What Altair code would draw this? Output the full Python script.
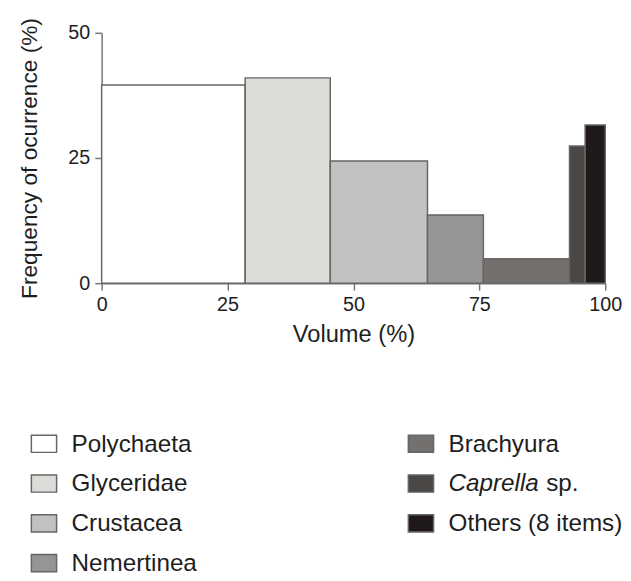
import altair as alt
import pandas as pd

# ---- data ----
categories = ["Polychaeta", "Glyceridae", "Crustacea", "Nemertinea",
              "Brachyura", "Caprella sp.", "Others (8 items)"]
vol_start = [0.0, 28.5, 45.4, 64.7, 75.8, 92.9, 96.0]
vol_end = [28.5, 45.4, 64.7, 75.8, 92.9, 96.0, 100.0]
freq = [39.6, 41.0, 24.4, 13.6, 4.9, 27.4, 31.6]
fills = ["#ffffff", "#dcdcd9", "#c1c1c1", "#979593", "#73706e", "#4a4745", "#1f1a19"]
x_ticks = [0, 25, 50, 75, 100]
y_ticks = [0, 25, 50]

FONT = "Liberation Sans"
AXIS_GRAY = "#767676"
TEXT = "#1e1e1e"

df = pd.DataFrame({"category": categories, "start": vol_start, "end": vol_end, "freq": freq})

color_scale = alt.Scale(domain=categories, range=fills)

bars = alt.Chart(df).mark_rect(stroke="#666666", strokeWidth=1.5).encode(
    x=alt.X("start:Q",
            scale=alt.Scale(domain=[0, 100], nice=False),
            axis=alt.Axis(values=x_ticks, title="Volume (%)", labelFlush=False,
                          titleFontSize=24, titlePadding=8, labelPadding=5)),
    x2="end:Q",
    y=alt.Y("freq:Q",
            scale=alt.Scale(domain=[0, 50], nice=False),
            axis=alt.Axis(values=y_ticks, title="Frequency of ocurrence (%)",
                          titleFontSize=23, titlePadding=27, labelPadding=5)),
    y2=alt.datum(0),
    fill=alt.Fill("category:N", scale=color_scale, legend=None),
).properties(width=511, height=254)

# ---- manual legend (two columns, column-major like the reference) ----
leg = pd.DataFrame({
    "category": categories,
    "col": [i // 4 for i in range(len(categories))],
    "row": [i % 4 for i in range(len(categories))],
})

rect_path = "M-1,-0.68H1V0.68H-1Z"

lbase = alt.Chart(leg).encode(
    x=alt.X("col:Q", scale=alt.Scale(domain=[0, 1], range=[-58.5, 324]), axis=None),
    y=alt.Y("row:Q", scale=alt.Scale(domain=[0, 3], range=[20, 141]), axis=None),
)

symbols = lbase.mark_point(shape=rect_path, size=655, filled=True, opacity=1,
                           stroke="#666666", strokeWidth=1.5).encode(
    fill=alt.Fill("category:N", scale=color_scale, legend=None))

labels = lbase.transform_filter(alt.datum.category != "Caprella sp.").mark_text(
    align="left", baseline="middle", dx=28, dy=1, fontSize=24.6, font=FONT, color=TEXT
).encode(text="category:N")

ital = lbase.transform_filter(alt.datum.category == "Caprella sp.").mark_text(
    align="left", baseline="middle", dx=28, dy=1, fontSize=24.6, font=FONT, color=TEXT,
    fontStyle="italic"
).encode(text=alt.value("Caprella"))

sp = lbase.transform_filter(alt.datum.category == "Caprella sp.").mark_text(
    align="left", baseline="middle", dx=127, dy=1, fontSize=24.6, font=FONT, color=TEXT
).encode(text=alt.value("sp."))

legend_chart = alt.layer(symbols, labels, ital, sp).properties(width=511, height=140)

chart = alt.vconcat(bars, legend_chart, spacing=143, bounds="flush").properties(
    padding={"left": 10, "top": 5, "right": 0, "bottom": 0}
).configure_view(stroke=None).configure_axis(
    domainColor=AXIS_GRAY, domainWidth=1.5, tickColor=AXIS_GRAY, tickWidth=1.5,
    tickSize=7, grid=False, labelFont=FONT, labelFontSize=20, labelColor=TEXT,
    titleFont=FONT, titleFontWeight="normal", titleColor=TEXT
)

chart.save("out.html", embed_options={"renderer": "svg", "actions": False})
